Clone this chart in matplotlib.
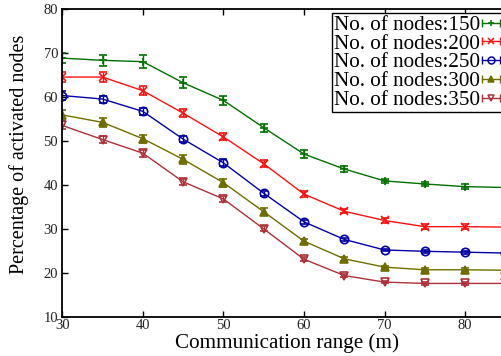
import matplotlib
matplotlib.use('Agg')
from matplotlib import pyplot as plt
from matplotlib.lines import Line2D
from matplotlib.legend_handler import HandlerLine2D

plt.rcParams['font.family'] = 'Liberation Serif'

comm_range = [30, 35, 40, 45, 50, 55, 60, 65, 70, 75, 80, 85, 90]

nodes_150 = [68.9, 68.4, 68.1, 63.3, 59.3, 53.1, 47.1, 43.7, 41.0, 40.3, 39.7, 39.5, 39.4]
nodes_200 = [64.6, 64.6, 61.5, 56.4, 51.0, 44.9, 38.0, 34.1, 32.0, 30.6, 30.6, 30.5, 30.5]
nodes_250 = [60.4, 59.6, 56.8, 50.5, 45.1, 38.2, 31.7, 27.7, 25.3, 25.0, 24.8, 24.6, 24.6]
nodes_300 = [56.0, 54.3, 50.6, 45.9, 40.6, 34.0, 27.3, 23.3, 21.4, 20.8, 20.8, 20.7, 20.7]
nodes_350 = [53.6, 50.4, 47.3, 40.8, 36.9, 30.1, 23.2, 19.5, 18.0, 17.7, 17.7, 17.7, 17.7]

err_150 = [1.2, 1.2, 1.4, 1.2, 1.0, 0.9, 0.9, 0.7, 0.4, 0.4, 0.5, 0.4, 0.4]
err_200 = [1.1, 1.1, 1.0, 0.9, 0.8, 0.8, 0.6, 0.5, 0.5, 0.5, 0.5, 0.4, 0.4]
err_250 = [1.0, 0.8, 0.8, 0.7, 0.8, 0.6, 0.5, 0.4, 0.3, 0.3, 0.3, 0.3, 0.3]
err_300 = [1.1, 1.0, 0.9, 1.0, 0.9, 0.8, 0.6, 0.4, 0.3, 0.3, 0.3, 0.3, 0.3]
err_350 = [0.9, 0.9, 0.8, 0.7, 0.7, 0.6, 0.5, 0.4, 0.3, 0.3, 0.3, 0.3, 0.3]

labels = ['No. of nodes:150', 'No. of nodes:200', 'No. of nodes:250',
          'No. of nodes:300', 'No. of nodes:350']

series = [nodes_150, nodes_200, nodes_250, nodes_300, nodes_350]
errors = [err_150, err_200, err_250, err_300, err_350]
colors = ['#007000', '#ff1010', '#0000a8', '#6e6e00', '#b03038']
markers = ['+', 'x', 'o', '^', 'v']
filled = [True, True, False, True, False]

fig = plt.figure(figsize=(5.02, 3.56), dpi=100)
# the frame runs on past the right edge of the figure
ax = fig.add_axes([0.124, 0.1087, 0.963, 0.8652])

handles = []
handler_map = {}
for y, e, c, m, f, lab in zip(series, errors, colors, markers, filled, labels):
    ax.errorbar(comm_range, y, yerr=e, color=c, marker=m, markersize=6,
                mfc=c if f else 'none', mec=c, mew=1.2, lw=1.0,
                elinewidth=1.0, capsize=3, capthick=1.0)
    # key sample: horizontal bar with end caps and the point in the middle
    caps = Line2D([], [], color=c, lw=1.0, marker='|', markersize=6, mew=1.0)
    pt = Line2D([], [], color=c, ls='none', marker=m, markersize=5,
                mfc=c if f else 'none', mec=c, mew=1.1)
    handler_map[caps] = HandlerLine2D(numpoints=2, marker_pad=0)
    handler_map[pt] = HandlerLine2D(numpoints=1)
    handles.append((caps, pt))

ax.set_xlim(30, 90)
ax.set_ylim(10, 80)
ax.set_xticks([30, 40, 50, 60, 70, 80])
ax.set_yticks([10, 20, 30, 40, 50, 60, 70, 80])
ax.tick_params(direction='in', length=4, width=1, labelsize=10.5,
               top=True, right=True, labelcolor='#222222')
ax.tick_params(axis='x', pad=1)
ax.tick_params(axis='y', pad=3)
for sp in ax.spines.values():
    sp.set_linewidth(1.3)

ax.set_xlabel('Communication range (m)', fontsize=15.2)
ax.set_ylabel('Percentage of activated nodes', fontsize=14.5)
ax.xaxis.set_label_coords(0.4647, -0.051)
ax.yaxis.set_label_coords(-0.069, 0.530)

leg = ax.legend(handles, labels, handler_map=handler_map,
                loc='upper left', bbox_to_anchor=(332 / 502, 1 - 13 / 356),
                bbox_transform=fig.transFigure, markerfirst=False,
                fontsize=15.25, frameon=True, fancybox=False, framealpha=1,
                edgecolor='black', borderpad=0.1, labelspacing=-0.05,
                handlelength=0.85, handletextpad=0.1, borderaxespad=0)
leg.get_frame().set_linewidth(1.0)

fig.savefig('out.png', dpi=100)
